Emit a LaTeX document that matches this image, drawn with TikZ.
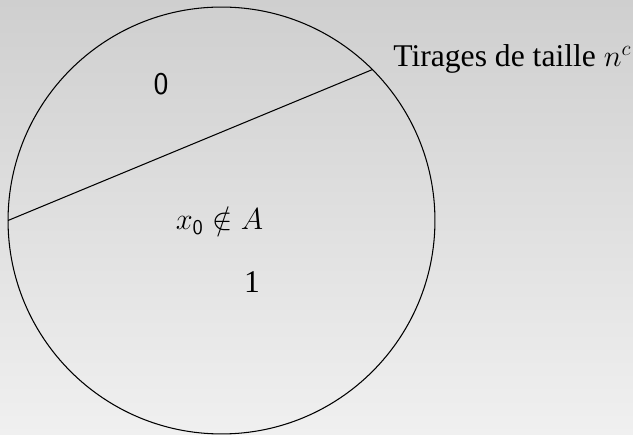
\documentclass[tikz,border=0pt]{standalone}
\usepackage{amssymb}
\usepackage{amsmath}
\usepackage{fontspec}
\setmainfont{Liberation Serif}
\usepackage{tikz}
\usetikzlibrary{positioning}
\definecolor{bgtop}{HTML}{CFCFCF}
\definecolor{bgbottom}{HTML}{F0F0F0}

\begin{document}
\begin{tikzpicture}[
  x=0.02cm, y=-0.02cm,
  region/.style={circle, draw=black, line width=0.6pt, minimum size=8.54cm,
    inner sep=0pt, outer sep=0pt},
  tag/.style={inner sep=0pt, font=\fontsize{18}{22}\selectfont}
]
% Background
\shade[top color=bgtop, bottom color=bgbottom] (0,0) rectangle (633,435);
\useasboundingbox (0,0) rectangle (633,435);
% Sample space and its cut
\node[region] (omega) at (221.5,220.5) {};
\draw[line width=0.6pt] (omega.180) -- (omega.45);
% Labels
\node[tag, anchor=base west] (title) at (393,67) {Tirages de taille $n^c$};
\node[tag, font=\fontsize{18}{22}\selectfont\sffamily, anchor=base] (zero) at (161,95) {0};
\node[tag, font=\fontsize{17}{20}\selectfont, anchor=base] (point) at (219.5,230) {$x_{\mathsf{0}} \notin A$};
\node[tag, anchor=base] (one) at (252,293) {1};
\end{tikzpicture}
\end{document}
